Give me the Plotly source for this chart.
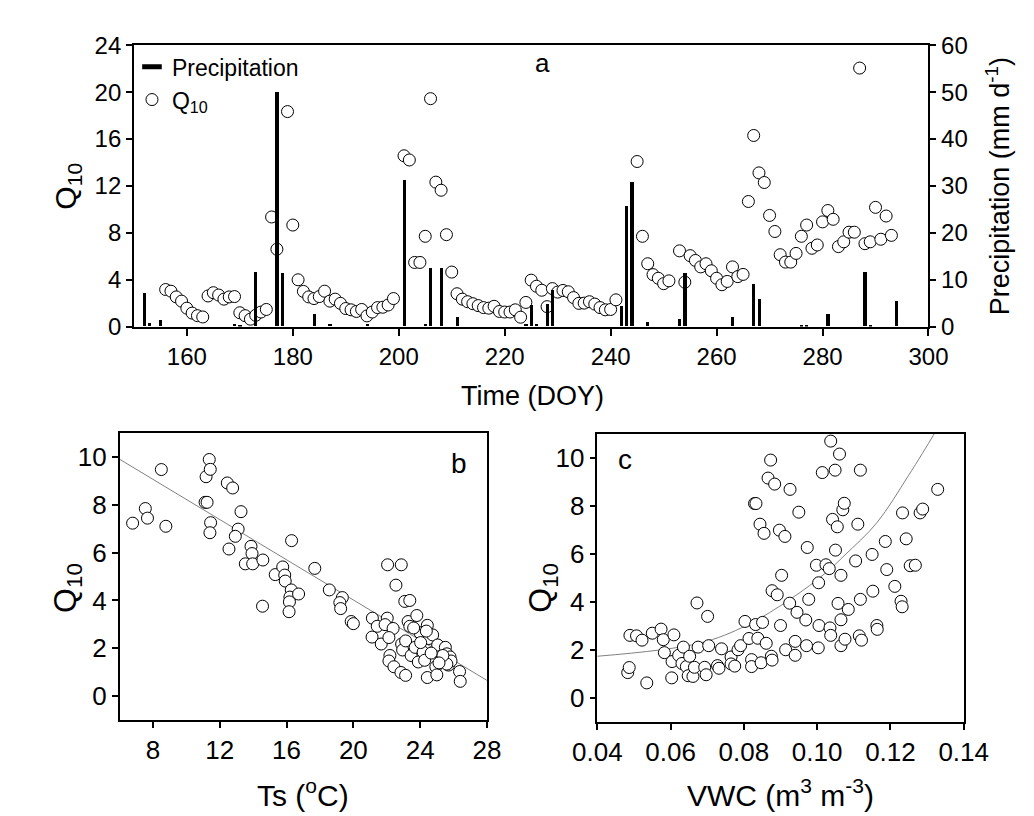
import plotly.graph_objects as go

W, H = 1034, 816

# ---------------- data: panel a ----------------
q10_doy = [156,157,158,159,160,161,162,163,164,165,166,167,168,169,170,171,172,173,174,175,
           176,177,179,180,181,182,183,184,185,186,187,188,189,190,191,192,193,194,195,196,
           197,198,199,201,202,203,204,205,206,207,208,209,210,211,212,213,214,215,216,217,
           218,219,220,221,222,223,224,225,226,227,228,229,230,231,232,233,234,235,236,237,
           238,239,240,241,245,246,247,248,249,250,251,253,254,255,256,257,258,259,260,261,
           262,263,264,265,266,267,268,269,270,271,272,273,274,275,276,277,278,279,280,281,
           282,283,284,285,286,287,288,289,290,291,292,293]
q10_val = [3.16,3.02,2.53,2.17,1.57,1.15,0.93,0.82,2.61,2.89,2.69,2.34,2.53,2.56,1.18,0.93,0.63,0.96,1.24,1.46,
           9.35,6.6,18.34,8.66,3.99,3.0,2.53,2.39,2.56,3.02,2.17,2.34,1.98,1.54,1.43,1.29,1.46,0.91,1.24,1.62,
           1.65,1.84,2.39,14.57,14.21,5.47,5.47,7.7,19.44,12.32,11.63,7.84,4.65,2.8,2.34,2.12,1.95,1.79,1.62,1.57,
           1.73,1.29,1.24,1.24,1.43,0.8,2.06,3.96,3.44,3.1,1.7,3.24,2.94,3.08,2.97,2.47,1.98,2.0,2.12,1.92,
           1.62,1.43,1.46,2.28,14.08,7.7,5.36,4.43,4.12,3.66,3.9,6.46,3.79,6.05,5.64,5.09,5.36,4.76,4.12,3.57,
           3.85,5.09,4.26,4.45,10.67,16.3,13.11,12.29,9.48,8.11,6.13,5.5,5.5,6.24,7.7,8.66,6.68,6.96,8.93,9.9,
           9.15,6.82,7.23,8.05,8.05,22.05,7.07,7.23,10.17,7.45,9.43,7.78]

precip_doy = [152,153,155,169,170,173,177,178,184,187,194,201,205,206,208,211,224,225,226,228,229,
              242,243,244,247,253,254,263,267,268,276,277,281,288,289,294]
precip_mm = [7.1,0.8,1.3,0.5,0.3,11.5,50.0,11.3,2.6,0.5,0.5,31.3,0.5,12.4,12.5,1.9,0.5,4.6,0.5,4.8,7.8,
             4.3,25.6,30.8,1.0,1.6,11.3,1.9,9.1,5.8,0.15,0.4,2.7,11.5,0.1,5.5]

# ---------------- data: panel b ----------------
ts_val = [6.78,7.54,7.67,8.5,8.77,11.18,11.37,11.43,11.12,11.24,11.45,11.41,12.45,12.77,13.27,13.1,12.93,12.55,
          13.87,13.93,13.53,13.97,14.58,14.56,15.32,15.77,15.89,15.92,16.28,16.2,16.17,16.15,16.72,16.3,17.69,
          18.56,19.34,19.19,19.24,19.87,20.0,21.14,21.12,21.43,21.67,22.05,22.87,22.55,23.08,23.38,22.03,21.9,
          22.38,22.13,22.19,22.13,22.43,22.89,22.95,22.85,23.13,23.28,23.38,23.13,23.46,23.8,23.99,23.7,23.89,
          24.18,24.43,24.52,24.75,24.27,24.43,24.94,25.0,25.05,25.28,25.51,25.6,25.7,25.79,25.85,25.6,25.36,
          26.36,26.4,24.03,23.61,24.37,24.66,25.13]
ts_q10 = [7.23,7.84,7.44,9.47,7.10,9.17,9.89,9.48,8.1,8.1,7.25,6.83,8.91,8.7,7.71,6.98,6.68,6.15,
          6.26,5.96,5.53,5.53,5.69,3.76,5.08,5.4,5.06,4.81,4.44,4.14,3.94,3.53,4.27,6.5,5.34,
          4.44,4.12,3.91,3.66,3.12,3.03,3.26,2.47,2.92,2.18,5.49,5.49,4.64,3.96,4.0,3.26,2.99,
          2.83,2.45,1.70,1.47,1.23,2.18,1.93,0.99,0.87,3.12,2.92,2.31,1.70,3.37,2.65,2.04,1.43,
          1.84,2.96,2.41,2.56,1.50,0.78,1.23,0.89,2.14,1.53,2.04,1.77,1.30,1.64,1.47,1.34,1.70,
          1.03,0.62,2.24,2.85,2.72,1.80,1.39]
fit_b_x = [6, 28]
fit_b_y = [9.9, 0.66]

# ---------------- data: panel c ----------------
vwc_val = [0.0489,0.0507,0.0522,0.055,0.0574,0.058,0.0609,0.0583,0.0604,0.0622,0.0631,0.0635,0.0643,0.0652,
           0.0648,0.0661,0.0665,0.0675,0.0693,0.0697,0.0704,0.0672,0.0701,0.0483,0.0487,0.0535,0.0603,0.0728,
           0.0732,0.0739,0.0765,0.0765,0.0775,0.0784,0.0791,0.0803,0.0814,0.0821,0.0821,0.0832,0.0829,0.0833,
           0.0838,0.0844,0.0847,0.0851,0.0855,0.0861,0.0866,0.0873,0.0875,0.0877,0.0877,0.0884,0.0891,0.0897,
           0.0900,0.0903,0.0912,0.0914,0.0925,0.0926,0.0940,0.0940,0.0945,0.0950,0.0969,0.0971,0.0973,0.0977,
           0.0998,0.1003,0.1004,0.1005,0.1014,0.1024,0.1033,0.1035,0.1037,0.1037,0.1042,0.1049,0.1050,0.1055,
           0.1057,0.1061,0.1065,0.1065,0.1065,0.1070,0.1074,0.1076,0.1085,0.1105,0.1111,0.1115,0.1118,0.1118,
           0.1121,0.1150,0.1152,0.1163,0.1164,0.1186,0.1190,0.1212,0.1229,0.1232,0.1233,0.1243,0.1254,0.1268,
           0.1281,0.1288,0.1329]
vwc_q10 = [2.61,2.59,2.41,2.70,2.87,2.43,2.63,1.89,1.52,1.78,1.44,2.12,1.31,1.74,
           0.93,0.90,1.28,2.12,1.28,0.97,2.18,3.96,3.40,1.06,1.27,0.63,0.84,1.35,
           1.24,2.05,1.71,1.42,1.33,2.01,2.18,3.19,2.48,1.60,1.31,3.06,8.10,8.10,
           2.49,7.24,1.47,3.15,6.86,2.28,9.16,9.91,1.74,1.58,4.47,8.91,4.30,6.99,
           3.02,5.11,6.73,2.01,3.95,8.69,2.36,1.78,3.57,7.74,3.25,2.18,6.27,4.11,
           5.53,2.09,4.80,3.02,9.39,5.55,5.39,2.92,2.61,10.70,7.44,9.49,6.16,7.13,
           3.94,10.16,5.11,2.18,3.26,7.84,8.11,2.45,3.69,5.71,7.24,2.59,4.11,9.49,
           2.41,5.98,4.45,3.02,2.86,6.52,5.35,4.65,4.03,3.80,7.71,6.63,5.51,5.53,
           7.71,7.87,8.69]
fit_c_x = [0.040, 0.0678, 0.0808, 0.0929, 0.1024, 0.1076, 0.1163, 0.1249, 0.1317, 0.1330]
fit_c_y = [1.74, 2.28, 3.03, 4.14, 5.22, 5.96, 7.30, 9.26, 10.94, 11.3]

# ---------------- layout helpers ----------------
def px_x(x):
    return x / W

def px_y(y):
    return 1 - y / H

FONT = "Liberation Sans, Arial, sans-serif"
TICKF = dict(family=FONT, size=24, color="black")
TICKF2 = dict(family=FONT, size=26, color="black")

fig = go.Figure()

# panel a
fig.add_trace(go.Scatter(x=q10_doy, y=q10_val, mode="markers", name="Q<sub>10</sub>",
                         marker=dict(symbol="circle", size=12, color="white",
                                     line=dict(color="black", width=1)),
                         xaxis="x", yaxis="y", legendrank=2))
fig.add_trace(go.Bar(x=precip_doy, y=precip_mm, width=0.6, marker=dict(color="black", line=dict(width=0)),
                     xaxis="x", yaxis="y2", showlegend=False))
fig.add_trace(go.Scatter(x=[None], y=[None], mode="markers", name="Precipitation",
                         marker=dict(symbol="line-ew", size=14, color="black",
                                     line=dict(color="black", width=5)),
                         xaxis="x", yaxis="y", legendrank=1))

# panel b
fig.add_trace(go.Scatter(x=fit_b_x, y=fit_b_y, mode="lines", line=dict(color="#808080", width=1),
                         xaxis="x3", yaxis="y3", showlegend=False))
fig.add_trace(go.Scatter(x=ts_val, y=ts_q10, mode="markers",
                         marker=dict(symbol="circle", size=12, color="white",
                                     line=dict(color="black", width=1)),
                         xaxis="x3", yaxis="y3", showlegend=False))

# panel c
fig.add_trace(go.Scatter(x=fit_c_x, y=fit_c_y, mode="lines", line=dict(color="#808080", width=1, shape="spline"),
                         xaxis="x4", yaxis="y4", showlegend=False))
fig.add_trace(go.Scatter(x=vwc_val, y=vwc_q10, mode="markers",
                         marker=dict(symbol="circle", size=12, color="white",
                                     line=dict(color="black", width=1)),
                         xaxis="x4", yaxis="y4", showlegend=False))

common = dict(showline=True, linecolor="black", linewidth=1.5, ticks="outside", tickcolor="black",
              tickwidth=1.5, showgrid=False, zeroline=False)

a_dom_x = [px_x(106), px_x(941)]
a_dom_y = [px_y(315), px_y(24)]
b_dom_x = [px_x(91), px_x(477)]
b_dom_y = [px_y(722), px_y(425)]
c_dom_x = [px_x(593), px_x(978)]
c_dom_y = [px_y(724), px_y(426)]

fig.update_layout(
    width=W, height=H, margin=dict(l=0, r=0, t=0, b=0),
    paper_bgcolor="white", plot_bgcolor="white",
    font=dict(family=FONT, color="black"),
    bargap=0,
    xaxis=dict(domain=a_dom_x, range=[150, 300], tickvals=[160, 180, 200, 220, 240, 260, 280, 300],
               mirror=True, ticklen=8, tickfont=TICKF, anchor="y", **common),
    yaxis=dict(domain=a_dom_y, range=[0, 24], tickvals=[0, 4, 8, 12, 16, 20, 24],
               ticklen=6, tickfont=TICKF, anchor="x", **common),
    yaxis2=dict(range=[0, 60], tickvals=[0, 10, 20, 30, 40, 50, 60], overlaying="y", side="right",
                ticklen=6, tickfont=TICKF, anchor="x", **common),
    xaxis3=dict(domain=b_dom_x, range=[6, 28], tickvals=[8, 12, 16, 20, 24, 28], mirror=True,
                ticklen=6, tickfont=TICKF2, anchor="y3", **common),
    yaxis3=dict(domain=b_dom_y, range=[-1, 11], tickvals=[0, 2, 4, 6, 8, 10], mirror=True,
                ticklen=6, tickfont=TICKF2, anchor="x3", **common),
    xaxis4=dict(domain=c_dom_x, range=[0.04, 0.14], tickvals=[0.04, 0.06, 0.08, 0.10, 0.12, 0.14],
                ticktext=["0.04", "0.06", "0.08", "0.10", "0.12", "0.14"], mirror=True,
                ticklen=6, tickfont=TICKF2, anchor="y4", **common),
    yaxis4=dict(domain=c_dom_y, range=[-1, 11], tickvals=[0, 2, 4, 6, 8, 10], mirror=True,
                ticklen=6, tickfont=TICKF2, anchor="x4", **common),
    legend=dict(x=px_x(104), y=px_y(24), xanchor="left", yanchor="top", bgcolor="rgba(0,0,0,0)",
                font=dict(family=FONT, size=23, color="black"), tracegroupgap=0, itemwidth=30),
)

def ann(text, x, y, size, angle=0, **kw):
    fig.add_annotation(text=text, x=px_x(x), y=px_y(y), xref="paper", yref="paper", showarrow=False,
                       textangle=angle, font=dict(family=FONT, size=size, color="black"),
                       xanchor="center", yanchor="middle", **kw)

ann("Time (DOY)", 525, 387, 27)
ann("Q<sub>10</sub>", 36, 170, 30, angle=-90)
ann("Precipitation (mm d<sup>-1</sup>)", 1014, 170, 27, angle=-90)
ann("a", 535, 42, 26)
ann("b", 448, 457, 28)
ann("c", 622, 452, 28)
ann("Q<sub>10</sub>", 36, 585, 32, angle=-90)
ann("Q<sub>10</sub>", 536, 585, 32, angle=-90)
ann("Ts (<sup>o</sup>C)", 284, 797, 30)
ann("VWC (m<sup>3</sup> m<sup>-3</sup>)", 785, 797, 30)

fig.write_html("out.html")
